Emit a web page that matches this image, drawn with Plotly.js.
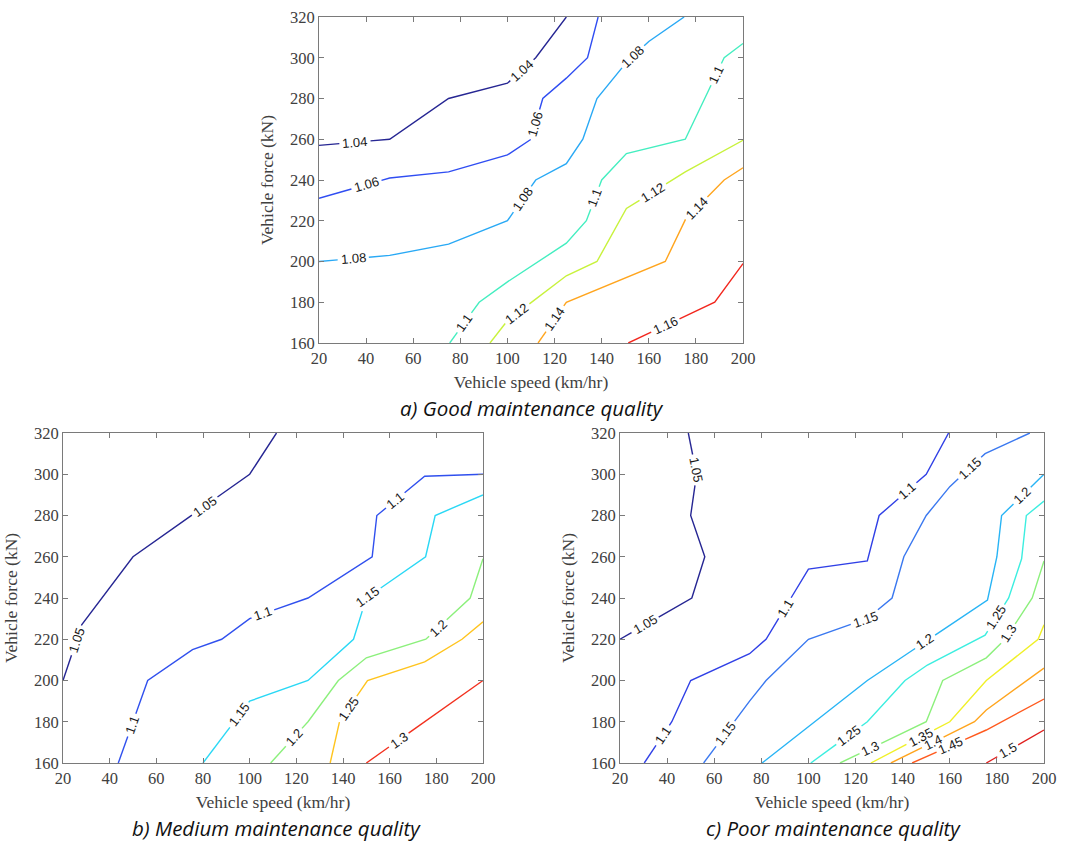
<!DOCTYPE html>
<html>
<head>
<meta charset="utf-8">
<script src="https://cdn.plot.ly/plotly-3.0.1.min.js"></script>
<style>html,body{margin:0;padding:0;background:#fff;}#chart{width:1065px;height:854px;}</style>
</head>
<body>
<div id="chart"></div>
<script>
// ---------------- DATA ----------------
const speedTicks = [20, 40, 60, 80, 100, 120, 140, 160, 180, 200];
const forceTicks = [160, 180, 200, 220, 240, 260, 280, 300, 320];

// Panel a) Good maintenance quality
const aLevels = [1.04, 1.06, 1.08, 1.1, 1.12, 1.14, 1.16];
const aX = [
  [20, 50, 75, 100, 112, 125],
  [20, 50, 75, 100, 110, 115, 125, 134, 138.5],
  [20, 50, 75, 100, 112, 125, 132, 138, 150, 160, 175],
  [75.5, 88, 100, 125, 133.5, 140, 150.5, 175.5, 192, 200],
  [92.6, 100, 125, 138, 150.5, 175.5, 200],
  [113, 125, 167, 175, 192, 200],
  [151.3, 188, 200]
];
const aY = [
  [257, 260, 280, 287.5, 300, 320],
  [231, 241, 244, 252.3, 260, 280, 290, 300, 320],
  [200, 203, 208.5, 220, 240, 248, 260, 280, 297, 308, 320],
  [160, 180, 190, 209, 220, 240, 253, 260, 300, 307],
  [160, 171, 193, 200, 226, 244, 259.5],
  [160, 180, 200, 220, 240, 246],
  [160, 180, 199]
];
const aLabLevel = [1.04, 1.04, 1.06, 1.06, 1.08, 1.08, 1.08, 1.1, 1.1, 1.1, 1.12, 1.12, 1.14, 1.14, 1.16];
const aLabX = [35.3, 106.7, 40.2, 112.4, 34.6, 107, 152.6, 81.2, 137.6, 189.2, 104.6, 161.2, 120.9, 180.3, 167.6];
const aLabY = [258, 293.2, 237.5, 267, 200.7, 230, 301.3, 170.4, 231, 291.5, 173.7, 235, 171.3, 226.1, 167.2];

// Panel b) Medium maintenance quality
const bLevels = [1.05, 1.1, 1.15, 1.2, 1.25, 1.3];
const bX = [
  [20, 28, 50, 75, 100, 111.5],
  [43.7, 56.3, 75.5, 88, 100, 125, 152.5, 154.5, 175, 200],
  [80, 100, 125, 144.5, 150, 175.4, 179.5, 200],
  [109, 125, 138, 150, 175.5, 194.5, 200],
  [134.5, 138.5, 150.5, 175, 191, 200],
  [150, 175, 200]
];
const bY = [
  [200, 227, 260, 280, 300, 320],
  [160, 200, 215, 220, 230, 240, 260, 280, 299, 300],
  [160, 190, 200, 220, 240, 260, 280, 290],
  [160, 180, 200, 211, 220, 240, 259],
  [160, 180, 200, 209, 220, 228.5],
  [160, 180, 200]
];
const bLabLevel = [1.05, 1.05, 1.1, 1.1, 1.1, 1.15, 1.15, 1.2, 1.2, 1.25, 1.3];
const bLabX = [27, 80.9, 49.4, 105.8, 162.3, 93.7, 151.6, 119.4, 180.8, 142.7, 164.4];
const bLabY = [219, 284.3, 178.4, 231.8, 287.5, 184.9, 239, 172, 225.3, 185.7, 170.3];

// Panel c) Poor maintenance quality
const cLevels = [1.05, 1.1, 1.15, 1.2, 1.25, 1.3, 1.35, 1.4, 1.45, 1.5];
const cX = [
  [49, 52.5, 50, 56, 50.5, 20],
  [30.3, 42, 50, 75, 82, 100, 125, 130, 150, 159.5],
  [55.5, 75, 82, 100, 125, 135.5, 140.5, 150, 160, 175, 194],
  [80.3, 125, 176, 180, 182, 200],
  [101, 125, 141, 150.5, 175, 185, 190.5, 192.5, 200],
  [113.4, 150, 157, 175.5, 183.5, 195, 200],
  [126.5, 160, 175.5, 197.5, 200],
  [135, 170.5, 175.5, 193, 200],
  [144, 175.5, 200],
  [175.5, 200]
];
const cY = [
  [320, 300, 280, 260, 240, 220],
  [160, 180, 200, 213, 220, 254, 258, 280, 300, 320],
  [160, 190, 200, 220, 230, 240, 260, 280, 294, 310, 320],
  [160, 200, 239, 260, 280, 300],
  [160, 180, 200, 207.5, 222, 240, 259, 280, 287],
  [160, 180, 200, 211, 220, 240, 258],
  [160, 180, 200, 220, 227],
  [160, 180, 185.7, 200, 206],
  [160, 176, 191],
  [160, 176]
];
const cLabLevel = [1.05, 1.05, 1.1, 1.1, 1.1, 1.15, 1.15, 1.15, 1.2, 1.2, 1.25, 1.25, 1.3, 1.3, 1.35, 1.4, 1.45, 1.5];
const cLabX = [52, 30.7, 37.8, 90.2, 141.7, 65.4, 124, 167.9, 149.5, 191.2, 117.6, 179.9, 125.4, 185.6, 147, 153, 161, 184.8];
const cLabY = [302.1, 226.9, 173.6, 235, 292.4, 173.6, 230.5, 303.7, 218.8, 289.1, 172.8, 230.2, 169.2, 222.1, 173.6, 169.5, 167, 165.5];

// ---------------- STYLE ----------------
const aColors = ['#262693', '#2f4df2', '#29a9f5', '#44eec0', '#c8f23c', '#ffa51e', '#f2271e'];
const bColors = ['#262693', '#3050ee', '#2ad8f5', '#8cf07c', '#ffc41e', '#f2301e'];
const cColors = ['#262693', '#3040e6', '#3a78f0', '#28b4f5', '#3ceee0', '#8cf07c', '#f0f028', '#ffa51e', '#ff5a1e', '#e0201e'];

const W = 1065, H = 854;
const XR = [20, 200], YR = [160, 320];
const LABEL_SIZE = 13;
// plot boxes in pixels: [left, right, top, bottom]
const boxes = {
  a: [319, 743, 17, 343],
  b: [63, 483, 433, 763],
  c: [620, 1044, 433, 763]
};
function dom(b) {
  return { x: [b[0] / W, b[1] / W], y: [1 - b[3] / H, 1 - b[2] / H] };
}
function labelWidth(s) {
  let w = 0;
  for (const ch of s) w += (ch === '.' ? 0.278 : 0.556) * LABEL_SIZE;
  return w;
}

const traces = [];
const annotations = [];

function addPanel(key, axSuffix, levels, X, Y, colors, labLevel, labX, labY) {
  const b = boxes[key];
  const sx = (b[1] - b[0]) / (XR[1] - XR[0]);
  const sy = (b[3] - b[2]) / (YR[1] - YR[0]);
  const gaps = levels.map(() => []);
  labLevel.forEach((lv, k) => {
    const i = levels.indexOf(lv);
    const xs = X[i], ys = Y[i];
    let best = null, cum = 0;
    for (let j = 0; j < xs.length - 1; j++) {
      const x0 = xs[j] * sx, y0 = ys[j] * sy, x1 = xs[j + 1] * sx, y1 = ys[j + 1] * sy;
      const px = labX[k] * sx, py = labY[k] * sy;
      const dx = x1 - x0, dy = y1 - y0;
      const L2 = dx * dx + dy * dy, L = Math.sqrt(L2);
      let t = L2 > 0 ? ((px - x0) * dx + (py - y0) * dy) / L2 : 0;
      t = Math.max(0, Math.min(1, t));
      const qx = x0 + t * dx, qy = y0 + t * dy;
      const d = (qx - px) ** 2 + (qy - py) ** 2;
      if (!best || d < best.d) best = { d, qx, qy, dx, dy, s: cum + t * L };
      cum += L;
    }
    let ang = -Math.atan2(best.dy, best.dx) * 180 / Math.PI;
    if (ang > 90) ang -= 180;
    if (ang <= -90) ang += 180;
    const txt = String(lv);
    const half = labelWidth(txt) / 2 + 3;
    gaps[i].push([best.s - half, best.s + half]);
    annotations.push({
      xref: 'x' + axSuffix, yref: 'y' + axSuffix,
      x: best.qx / sx, y: best.qy / sy,
      text: txt, showarrow: false, textangle: ang,
      font: { family: 'Liberation Sans, Arial, sans-serif', size: LABEL_SIZE, color: '#1a1a1a' }
    });
  });
  levels.forEach((lv, i) => {
    const xs = X[i], ys = Y[i];
    // cumulative pixel length along polyline
    const cum = [0];
    for (let j = 0; j < xs.length - 1; j++) {
      cum.push(cum[j] + Math.hypot((xs[j + 1] - xs[j]) * sx, (ys[j + 1] - ys[j]) * sy));
    }
    const total = cum[cum.length - 1];
    const at = (s) => {
      let j = 0;
      while (j < cum.length - 2 && cum[j + 1] < s) j++;
      const seg = cum[j + 1] - cum[j];
      const t = seg > 0 ? (s - cum[j]) / seg : 0;
      return [xs[j] + t * (xs[j + 1] - xs[j]), ys[j] + t * (ys[j + 1] - ys[j])];
    };
    const g = gaps[i].slice().sort((p, q) => p[0] - q[0]);
    const kept = [];
    let start = 0;
    g.forEach(([g0, g1]) => {
      if (g0 > start) kept.push([start, Math.min(g0, total)]);
      start = Math.max(start, g1);
    });
    if (start < total) kept.push([start, total]);
    const ox = [], oy = [];
    kept.forEach(([s0, s1]) => {
      const p0 = at(s0);
      ox.push(p0[0]); oy.push(p0[1]);
      for (let j = 1; j < xs.length - 1; j++) {
        if (cum[j] > s0 && cum[j] < s1) { ox.push(xs[j]); oy.push(ys[j]); }
      }
      const p1 = at(s1);
      ox.push(p1[0]); oy.push(p1[1]);
      ox.push(null); oy.push(null);
    });
    traces.push({
      type: 'scatter', mode: 'lines',
      x: ox, y: oy, connectgaps: false,
      xaxis: 'x' + axSuffix, yaxis: 'y' + axSuffix,
      line: { color: colors[i], width: 1.4 },
      hoverinfo: 'skip', showlegend: false, name: String(lv)
    });
  });
}

addPanel('a', '', aLevels, aX, aY, aColors, aLabLevel, aLabX, aLabY);
addPanel('b', '2', bLevels, bX, bY, bColors, bLabLevel, bLabX, bLabY);
addPanel('c', '3', cLevels, cX, cY, cColors, cLabLevel, cLabX, cLabY);

const axCol = '#7a7a7a';
const tickFont = { family: 'Liberation Serif, Times New Roman, serif', size: 16.5, color: '#404040' };
const titleFont = { family: 'Liberation Serif, Times New Roman, serif', size: 17.5, color: '#404040' };
function xAxis(key, anchor) {
  return {
    domain: dom(boxes[key]).x, anchor: anchor, range: XR, tickvals: speedTicks,
    ticks: 'inside', ticklen: 5, tickwidth: 1, tickcolor: axCol,
    showline: true, linecolor: axCol, linewidth: 1, mirror: 'ticks',
    showgrid: false, zeroline: false, tickfont: tickFont, fixedrange: true,
    title: { text: 'Vehicle speed (km/hr)', font: titleFont, standoff: 8 }
  };
}
function yAxis(key, anchor) {
  return {
    domain: dom(boxes[key]).y, anchor: anchor, range: YR, tickvals: forceTicks,
    ticks: 'inside', ticklen: 5, tickwidth: 1, tickcolor: axCol,
    showline: true, linecolor: axCol, linewidth: 1, mirror: 'ticks',
    showgrid: false, zeroline: false, tickfont: tickFont, fixedrange: true,
    title: { text: 'Vehicle force (kN)', font: titleFont, standoff: 11 }
  };
}

const capFont = { family: 'Open Sans, Liberation Sans, sans-serif', size: 20.5, color: '#111111' };
annotations.push(
  { xref: 'paper', yref: 'paper', x: 532 / W, y: 1 - 408 / H, text: '<i>a) Good maintenance quality</i>', showarrow: false, font: capFont, xanchor: 'center', yanchor: 'middle' },
  { xref: 'paper', yref: 'paper', x: 276 / W, y: 1 - 828 / H, text: '<i>b) Medium maintenance quality</i>', showarrow: false, font: capFont, xanchor: 'center', yanchor: 'middle' },
  { xref: 'paper', yref: 'paper', x: 833 / W, y: 1 - 828 / H, text: '<i>c) Poor maintenance quality</i>', showarrow: false, font: capFont, xanchor: 'center', yanchor: 'middle' }
);

const layout = {
  width: W, height: H,
  margin: { l: 0, r: 0, t: 0, b: 0 },
  paper_bgcolor: '#ffffff', plot_bgcolor: '#ffffff',
  showlegend: false,
  xaxis: xAxis('a', 'y'), yaxis: yAxis('a', 'x'),
  xaxis2: xAxis('b', 'y2'), yaxis2: yAxis('b', 'x2'),
  xaxis3: xAxis('c', 'y3'), yaxis3: yAxis('c', 'x3'),
  annotations: annotations
};

Plotly.newPlot('chart', traces, layout, { displayModeBar: false, staticPlot: true });
</script>
</body>
</html>
